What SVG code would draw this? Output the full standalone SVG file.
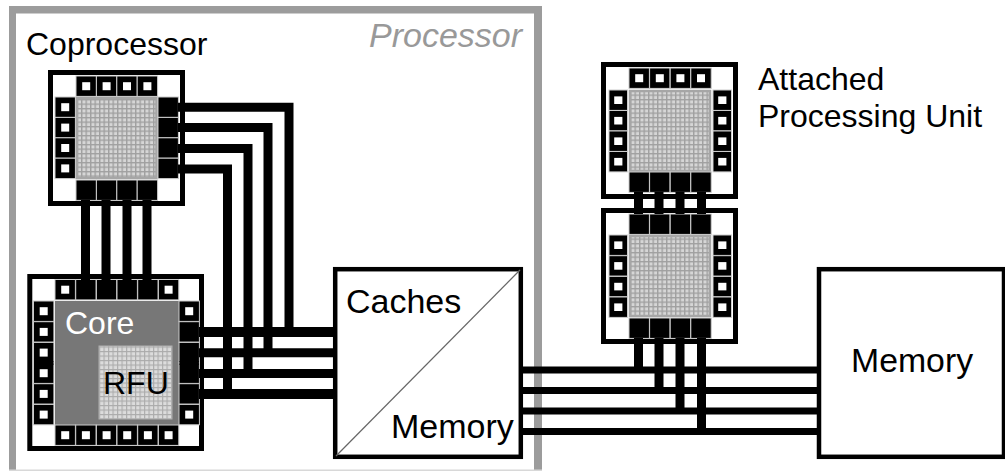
<svg xmlns="http://www.w3.org/2000/svg" width="1005" height="471" viewBox="0 0 1005 471">
<style>
text{font-family:"Liberation Sans",Arial,sans-serif;font-size:32px;fill:#000}
.chip{fill:#fff;stroke:#000;stroke-width:5}
.box{fill:#fff;stroke:#000;stroke-width:4.5}
.pad{fill:#000;stroke:#ccc;stroke-width:1}
.hole{fill:#fff}
.wire{fill:none;stroke:#000;stroke-width:9}
.bus{fill:none;stroke:#000;stroke-width:6.8}
.frame{fill:#9c9c9c}
.grid{fill:url(#g);stroke:#a6a6a6;stroke-width:2.5}
</style>
<defs>
<pattern id="g" width="4.5" height="4.5" patternUnits="userSpaceOnUse">
<rect width="4.5" height="4.5" fill="#d6d6d6"/>
<path d="M0 .7H4.5M.7 0V4.5" stroke="#a0a0a0" stroke-width="1.4"/>
</pattern>
<pattern id="r" width="4.5" height="4.5" patternUnits="userSpaceOnUse">
<rect width="4.5" height="4.5" fill="#dcdcdc"/>
<path d="M0 .6H4.5M.6 0V4.5" stroke="#ababab" stroke-width="1.1"/>
</pattern>
<rect id="s" class="pad" width="20.4" height="20.4"/>
<g id="h"><rect class="pad" width="20.4" height="20.4"/><rect class="hole" x="6.2" y="6.2" width="8" height="8"/></g>
<rect id="sn" class="pad" width="18.5" height="20.4"/>
<g id="hn"><rect class="pad" width="18.5" height="20.4"/><rect class="hole" x="5.2" y="6.4" width="8.2" height="7.6"/></g>
</defs>

<g id="processor">
<path class="frame" d="M9 6H542V471H534V13.5H16V471H9Z"/>
<rect x="9" y="469.5" width="533" height="1.5" fill="#d8d8d8"/>
<text x="369" y="47" style="font-style:italic;font-size:34px;fill:#999">Processor</text>
<text x="26" y="55">Coprocessor</text>
</g>

<g id="coprocessor">
<rect class="chip" x="50.5" y="72.5" width="132" height="131"/>
<rect class="grid" x="77" y="98" width="79.5" height="80"/>
<use href="#h" x="76" y="76"/><use href="#h" x="96.4" y="76"/><use href="#h" x="116.8" y="76"/><use href="#h" x="137.2" y="76"/>
<use href="#h" x="55" y="97"/><use href="#h" x="55" y="117.4"/><use href="#h" x="55" y="137.8"/><use href="#h" x="55" y="158.2"/>
<use href="#s" x="158" y="97"/><use href="#s" x="158" y="117.4"/><use href="#s" x="158" y="137.8"/><use href="#s" x="158" y="158.2"/>
<use href="#s" x="76" y="180"/><use href="#s" x="96.4" y="180"/><use href="#s" x="116.8" y="180"/><use href="#s" x="137.2" y="180"/>
</g>

<g id="core">
<rect class="chip" x="29.8" y="276.5" width="171.7" height="172"/>
<rect x="55" y="301" width="124" height="124" fill="#777"/>
<rect x="99" y="346" width="73" height="73" fill="url(#r)" stroke="#b0b0b0"/>
<use href="#h" x="55" y="279.5"/><use href="#s" x="75.7" y="279.5"/><use href="#s" x="96.4" y="279.5"/><use href="#s" x="117" y="279.5"/><use href="#s" x="137.7" y="279.5"/><use href="#h" x="158.4" y="279.5"/>
<use href="#h" x="55" y="425"/><use href="#h" x="75.7" y="425"/><use href="#h" x="96.4" y="425"/><use href="#h" x="117" y="425"/><use href="#h" x="137.7" y="425"/><use href="#h" x="158.4" y="425"/>
<use href="#h" x="33.5" y="301"/><use href="#h" x="33.5" y="321.7"/><use href="#h" x="33.5" y="342.4"/><use href="#h" x="33.5" y="363"/><use href="#h" x="33.5" y="383.7"/><use href="#h" x="33.5" y="404.4"/>
<use href="#h" x="179" y="301"/><use href="#s" x="179" y="321.7"/><use href="#s" x="179" y="342.4"/><use href="#s" x="179" y="363"/><use href="#s" x="179" y="383.7"/><use href="#h" x="179" y="404.4"/>
<rect x="34" y="361" width="19.4" height="4"/>
<rect x="179.5" y="361" width="19.4" height="4"/>
<text x="65" y="334" style="fill:#fff">Core</text>
<text x="103" y="394">RFU</text>
</g>

<g id="caches-memory">
<rect class="box" x="335.2" y="269.2" width="185.6" height="187.6"/>
<path d="M336 456L520 270" stroke="#666" stroke-width="1.2"/>
<text x="346" y="313" style="font-size:34px">Caches</text>
<text x="391" y="438" style="font-size:34px">Memory</text>
</g>

<g id="apu-upper">
<rect class="chip" x="603.5" y="64.5" width="132" height="132"/>
<rect class="grid" x="630" y="91" width="80" height="80"/>
<use href="#h" x="629" y="68"/><use href="#h" x="649.6" y="68"/><use href="#h" x="670.2" y="68"/><use href="#h" x="690.8" y="68"/>
<use href="#hn" x="609" y="90"/><use href="#hn" x="609" y="110.5"/><use href="#hn" x="609" y="131"/><use href="#hn" x="609" y="151.5"/>
<use href="#hn" x="713" y="90"/><use href="#hn" x="713" y="110.5"/><use href="#hn" x="713" y="131"/><use href="#hn" x="713" y="151.5"/>
<use href="#s" x="629" y="172"/><use href="#s" x="649.6" y="172"/><use href="#s" x="670.2" y="172"/><use href="#s" x="690.8" y="172"/>
</g>

<g id="apu-lower">
<rect class="chip" x="603.5" y="210.5" width="132" height="131"/>
<rect class="grid" x="630" y="236" width="80" height="80"/>
<use href="#s" x="629" y="214"/><use href="#s" x="649.6" y="214"/><use href="#s" x="670.2" y="214"/><use href="#s" x="690.8" y="214"/>
<use href="#hn" x="609" y="235"/><use href="#hn" x="609" y="255.7"/><use href="#hn" x="609" y="276.4"/><use href="#hn" x="609" y="297"/>
<use href="#hn" x="713" y="235"/><use href="#hn" x="713" y="255.7"/><use href="#hn" x="713" y="276.4"/><use href="#hn" x="713" y="297"/>
<use href="#s" x="629" y="318"/><use href="#s" x="649.6" y="318"/><use href="#s" x="670.2" y="318"/><use href="#s" x="690.8" y="318"/>
</g>

<g id="apu-label">
<text x="758" y="90">Attached</text>
<text x="758" y="127">Processing Unit</text>
</g>

<g id="memory">
<rect class="box" x="819" y="269.2" width="185" height="187.6"/>
<text x="851" y="372" style="font-size:33.8px">Memory</text>
</g>

<g id="connectors">
<path class="wire" d="M85.5 200V280M106 200V280M127 200V280M147 200V280"/>
<path class="wire" d="M178 107.2H289V332M178 127.5H268V353M178 148.5H248V374M178 169H227.5V394"/>
<path class="wire" style="stroke-width:10" d="M199 332H333M199 394H333"/>
<path class="wire" d="M199 352.7H333M199 373.5H333"/>
<path class="wire" d="M638.5 192V214M659 192V214M680 192V214M701.5 192V214M638.5 338V370M659 338V390.5M680 338V411M701.5 338V431.5"/>
<path class="bus" d="M523 370H817M523 390.5H817M523 411H817M523 431.5H817"/>
</g>
</svg>
